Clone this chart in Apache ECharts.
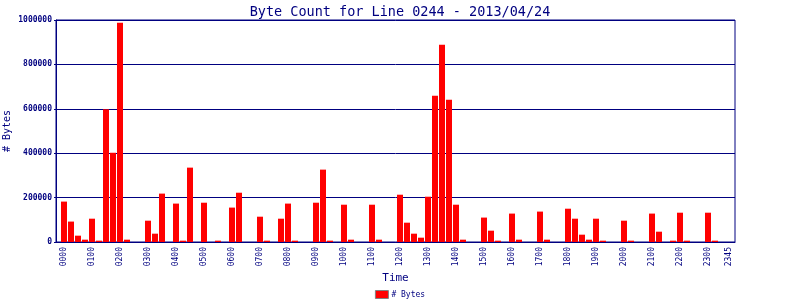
<!DOCTYPE html>
<html><head><meta charset="utf-8">
<script src="https://cdn.jsdelivr.net/npm/echarts@6/dist/echarts.min.js"></script>
<style>html,body{margin:0;padding:0;background:#fff}#c{width:800px;height:300px}</style>
</head><body><div id="c"></div>
<script>
const times = ['0000','0015','0030','0045','0100','0115','0130','0145','0200','0215','0230','0245',
'0300','0315','0330','0345','0400','0415','0430','0445','0500','0515','0530','0545',
'0600','0615','0630','0645','0700','0715','0730','0745','0800','0815','0830','0845',
'0900','0915','0930','0945','1000','1015','1030','1045','1100','1115','1130','1145',
'1200','1215','1230','1245','1300','1315','1330','1345','1400','1415','1430','1445',
'1500','1515','1530','1545','1600','1615','1630','1645','1700','1715','1730','1745',
'1800','1815','1830','1845','1900','1915','1930','1945','2000','2015','2030','2045',
'2100','2115','2130','2145','2200','2215','2230','2245','2300','2315','2330','2345'];
const bytes = [182000,92000,28500,10500,105000,6000,598000,402000,988000,10500,0,0,
96000,37500,218000,0,173000,6000,335000,0,177000,0,6000,0,
155000,222000,0,0,114000,6000,0,105000,173000,6000,0,0,
177000,326000,6000,0,168000,10500,0,0,168000,10500,0,0,
213000,87000,37500,19500,204000,659000,889000,641000,168000,10500,0,0,
110000,51000,6000,0,128000,10500,0,0,137000,10500,0,0,
150000,105000,33000,10500,105000,6000,0,0,96000,6000,0,0,
128000,46500,0,6000,132000,6000,0,0,132000,6000,0,0];
const labelTimes = ['0000','0100','0200','0300','0400','0500','0600','0700','0800','0900','1000','1100',
'1200','1300','1400','1500','1600','1700','1800','1900','2000','2100','2200','2300','2345'];

const navy = '#000080';
const mono = 'DejaVu Sans Mono';
const chart = echarts.init(document.getElementById('c'), null, {renderer:'canvas'});
const labelIdx = labelTimes.map(t => times.indexOf(t));
chart.setOption({
  animation: false,
  title: {text: 'Byte Count for Line 0244 - 2013/04/24', left: 'center', top: 0,
    textStyle: {fontFamily: mono, fontSize: 13.5, fontWeight: 'normal', color: navy}},
  legend: {data: ['# Bytes'], left: 'center', top: 290, padding: 0, itemWidth: 13, itemHeight: 8, icon: 'rect',
    itemStyle: {borderColor: '#808080', borderWidth: 1},
    textStyle: {fontFamily: mono, fontSize: 8, color: navy, padding: [0,0,0,-2]}},
  grid: {left: 56, right: 65, top: 20, bottom: 58, outerBoundsMode: 'none', containLabel: false,
    show: true, borderColor: navy, borderWidth: 1},
  xAxis: {type: 'value', min: -8/7, max: (times.length - 1) + 6/7,
    name: 'Time', nameLocation: 'middle', nameGap: 31, nameMoveOverlap: false,
    nameTextStyle: {fontFamily: mono, fontSize: 11, color: navy},
    axisLine: {show: true, onZero: false, lineStyle: {color: navy}}, axisTick: {show: false},
    splitLine: {show: false},
    axisLabel: {customValues: labelIdx, rotate: 90, margin: 5, fontFamily: mono, fontSize: 8, color: navy,
      formatter: v => times[Math.round(v)]}},
  yAxis: {type: 'value', min: 0, max: 1000000, interval: 200000,
    name: '# Bytes', nameLocation: 'middle', nameGap: 44, nameMoveOverlap: false,
    nameTextStyle: {fontFamily: mono, fontSize: 10, color: navy},
    axisLine: {show: true, onZero: false, lineStyle: {color: navy}},
    axisTick: {show: true, length: 2, lineStyle: {color: navy}},
    splitLine: {show: true, lineStyle: {color: navy, width: 1}},
    axisLabel: {margin: 4, fontFamily: mono, fontSize: 8, fontWeight: 'bold', color: navy,
      formatter: v => String(v)}},
  series: [{name: '# Bytes', type: 'bar', barWidth: 6, itemStyle: {color: '#ff0000'},
    data: bytes.map((v, i) => [i, v])}]
});
</script></body></html>
